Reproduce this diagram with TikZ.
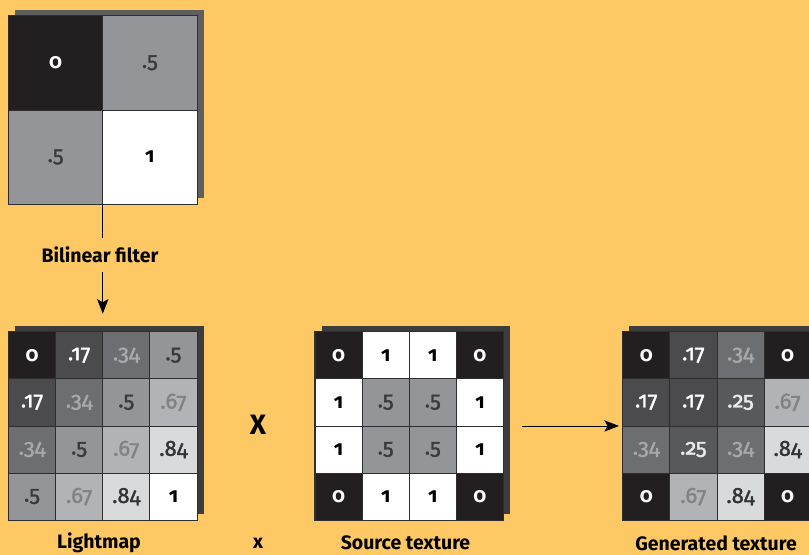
\documentclass[tikz,border=0pt]{standalone}
\usepackage{fontspec}
\setmainfont{Fira Sans}[Numbers=OldStyle]
\newfontfamily\numfont{Fira Sans}[Numbers=OldStyle, FakeBold=1.5]
\usetikzlibrary{arrows.meta}
\definecolor{bg}{HTML}{FEC864}
\definecolor{gridline}{HTML}{2E2E2E}
\definecolor{shadowA}{HTML}{5E5E5E}
\definecolor{shadowB}{HTML}{3C3C3C}
\definecolor{c0}{HTML}{231F20}
\definecolor{c17}{HTML}{4B4B4D}
\definecolor{c25}{HTML}{58595B}
\definecolor{c34}{HTML}{6D6E71}
\definecolor{c5}{HTML}{939598}
\definecolor{c67}{HTML}{B1B3B6}
\definecolor{c84}{HTML}{D9DADB}
\definecolor{t34}{HTML}{A7A9AC}
\definecolor{t5}{HTML}{3A3A3C}
\definecolor{t67}{HTML}{808285}
\definecolor{t84}{HTML}{333333}
\begin{document}
\begin{tikzpicture}[x=0.75pt,y=-0.75pt,
  cell/.style={draw=gridline, line width=0.6pt, minimum size=#1, inner sep=0pt,
    outer sep=0pt, anchor=north west, font=\fontsize{16.5}{17}\selectfont\numfont},
  frame/.style={draw=gridline, line width=0.8pt, minimum size=#1, inner sep=0pt,
    outer sep=0pt, anchor=north west},
  v0/.style={fill=c0, text=white, font=\fontsize{15.5}{16}\selectfont\bfseries},
  v17/.style={fill=c17, text=white},
  v25/.style={fill=c25, text=white!92!black},
  v34/.style={fill=c34, text=t34},
  v5/.style={fill=c5, text=t5},
  v67/.style={fill=c67, text=t67},
  v84/.style={fill=c84, text=t84},
  v1/.style={fill=white, text=black, font=\fontsize{15.5}{16}\selectfont\bfseries},
  lbl/.style={font=\fontsize{14.6}{16}\selectfont\bfseries, text=black, inner sep=0pt},
  arr/.style={line width=0.7pt, -{Stealth[length=11pt,width=8.5pt,inset=2.5pt]}}
]
\fill[bg] (0,0) rectangle (809,555);
\useasboundingbox (0,0) rectangle (809,555);

% ---- top 2x2 grid ----
\fill[shadowA] (15,9.7) rectangle +(188.5,188.5);
\foreach \r/\c/\s/\t in {1/1/v0/0, 1/2/v5/.5, 2/1/v5/.5, 2/2/v1/1}
  \node[cell=70.7pt, \s] (T-\r-\c) at ({8.5+94.25*(\c-1)},{15.7+94.25*(\r-1)}) {\t};
\node[frame=141.4pt] (topgrid) at (8.5,15.7) {};

% ---- lightmap ----
\fill[shadowB] (15,325.7) rectangle +(188.5,188.5);
\foreach \r/\c/\s/\t in {
  1/1/v0/0, 1/2/v17/.17, 1/3/v34/.34, 1/4/v5/.5,
  2/1/v17/.17, 2/2/v34/.34, 2/3/v5/.5, 2/4/v67/.67,
  3/1/v34/.34, 3/2/v5/.5, 3/3/v67/.67, 3/4/v84/.84,
  4/1/v5/.5, 4/2/v67/.67, 4/3/v84/.84, 4/4/v1/1}
  \node[cell=35.35pt, \s] (L-\r-\c) at ({8.5+47.125*(\c-1)},{331.7+47.125*(\r-1)}) {\t};
\node[frame=141.4pt] (lightmap) at (8.5,331.7) {};

% ---- source texture ----
\fill[shadowB] (321.7,325.7) rectangle +(188.5,188.5);
\foreach \r/\c/\s/\t in {
  1/1/v0/0, 1/2/v1/1, 1/3/v1/1, 1/4/v0/0,
  2/1/v1/1, 2/2/v5/.5, 2/3/v5/.5, 2/4/v1/1,
  3/1/v1/1, 3/2/v5/.5, 3/3/v5/.5, 3/4/v1/1,
  4/1/v0/0, 4/2/v1/1, 4/3/v1/1, 4/4/v0/0}
  \node[cell=35.35pt, \s] (S-\r-\c) at ({315+47.125*(\c-1)},{331.7+47.125*(\r-1)}) {\t};
\node[frame=141.4pt] (source) at (315,331.7) {};

% ---- generated texture ----
\fill[shadowB] (629,325.7) rectangle +(188.5,188.5);
\foreach \r/\c/\s/\t in {
  1/1/v0/0, 1/2/v17/.17, 1/3/v34/.34, 1/4/v0/0,
  2/1/v17/.17, 2/2/v17/.17, 2/3/v25/.25, 2/4/v67/.67,
  3/1/v34/.34, 3/2/v25/.25, 3/3/v34/.34, 3/4/v84/.84,
  4/1/v0/0, 4/2/v67/.67, 4/3/v84/.84, 4/4/v0/0}
  \node[cell=35.35pt, \s] (G-\r-\c) at ({622.7+47.125*(\c-1)},{331.7+47.125*(\r-1)}) {\t};
\node[frame=141.4pt] (generated) at (622.7,331.7) {};

% ---- labels ----
\node[lbl] (bil) at (100,255) {Bilinear filter};
\node[lbl] (lmlbl) at (99,543) {Lightmap};
\node[lbl] (xsmall) at (258,543) {x};
\node[lbl] (srclbl) at (405.5,543) {Source texture};
\node[lbl] (genlbl) at (716,543) {Generated texture};
\node[font=\fontsize{21}{22}\selectfont\bfseries, inner sep=0pt] (xbig) at (258,425) {X};

% ---- connectors ----
\draw[line width=0.7pt] (topgrid.south) -- ([yshift=-0.75*34pt]topgrid.south);
\draw[arr, shorten >=13.5pt] ([yshift=-0.75*68pt]topgrid.south) -- (lightmap.north);
\draw[arr, shorten <=14pt, shorten >=2.8pt] (source.east) -- (generated.west);
\end{tikzpicture}
\end{document}
